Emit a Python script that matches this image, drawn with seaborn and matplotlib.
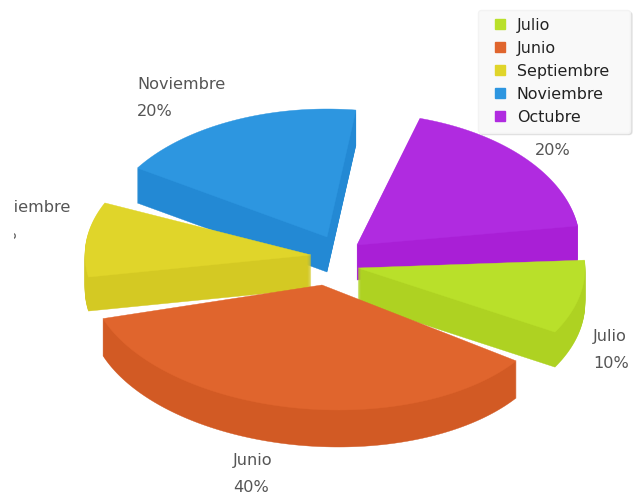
import matplotlib
matplotlib.use("Agg")
import matplotlib.pyplot as plt
import seaborn as sns
import numpy as np
from matplotlib.lines import Line2D
from matplotlib.patches import Rectangle

months = ["Julio", "Junio", "Septiembre", "Noviembre", "Octubre"]
shares = [10, 40, 10, 20, 20]
labels = ["10%", "40%", "10%", "20%", "20%"]

top_colors = ["#b9e02a", "#e0652d", "#e0d52a", "#2d96e0", "#b02be0"]
wall_colors = ["#aed222", "#d25a24", "#d4c923", "#2389d4", "#a91fd6"]

# Exploded offset of each slice, its squashed radii and the perspective
# correction of its two edges (all styling, in pixels / degrees)
offset_x = [18, -18, -29, -13, 17]
offset_y = [6, 23, -7, -25, -17]
radius_x = [227, 232, 226, 225, 223]
radius_y = [129, 125, 127, 128, 132]
shift_hi = [1.5, -3.4, 8, 1.4, -0.4]
shift_lo = [4.2, 13.6, 9.8, 8.6, 6.3]
shear = [0, 0.13, 0, 0, 0]
depth = [35, 37, 34, 35, 35]
draw_order = [3, 4, 2, 0, 1]
start_angle = 2

W, H = 643, 498
CX, CY = 340, 262
CLIP_LEFT = 14

sns.set_theme(style="white")
plt.rcParams["font.family"] = ["DejaVu Sans"]

fig = plt.figure(figsize=(W / 100, H / 100), dpi=100, facecolor="white")
ax = fig.add_axes([0, 0, 1, 1])
ax.set_xlim(0, W)
ax.set_ylim(H, 0)
ax.axis("off")

ends = start_angle - np.cumsum(shares) * 3.6
starts = ends + np.array(shares) * 3.6

z = 1
for i in draw_order:
    th = np.radians(np.linspace(starts[i] + shift_hi[i], ends[i] + shift_lo[i], 120))
    dy = -radius_y[i] * np.sin(th)
    dx = radius_x[i] * np.cos(th) + shear[i] * dy
    ax0 = CX + offset_x[i]
    ay0 = CY + offset_y[i]
    xs = np.r_[ax0, ax0 + dx]
    ys = np.r_[ay0, ay0 + dy]
    for k in range(depth[i], 0, -1):
        ax.fill(xs, ys + k, color=wall_colors[i], linewidth=0.3, zorder=z)
        z += 1
    ax.fill(xs, ys, color=top_colors[i], linewidth=0.3, zorder=z)
    z += 1

name_pos = [(593, 336), (233, 460), (-23, 207), (137, 84), None]
pct_pos = [(593, 363), (233, 487), (-19, 234), (137, 111), (535, 150)]
clip_region = Rectangle((CLIP_LEFT, 0), W, H, transform=ax.transData)
for i in range(len(months)):
    texts = []
    if name_pos[i] is not None:
        texts.append(ax.text(*name_pos[i], months[i], fontsize=11.6, color="#555555",
                             ha="left", va="center", zorder=z))
    texts.append(ax.text(*pct_pos[i], labels[i], fontsize=11.6, color="#555555",
                         ha="left", va="center", zorder=z))
    for t in texts:
        t.set_clip_on(True)
        t.set_clip_path(clip_region)

handles = [Line2D([], [], linestyle="none", marker="s", markersize=7,
                  markerfacecolor=c, markeredgecolor=c) for c in top_colors]
leg = ax.legend(handles, months, loc="upper left", mode="expand",
                bbox_to_anchor=(478 / W, 1 - 10 / H, 152 / W, 0),
                frameon=True, fontsize=11.4,
                labelcolor="#222222", facecolor="#f9f9f9", edgecolor="#f3f3f3",
                framealpha=1, fancybox=True,
                shadow={"ox": 1.5, "oy": -1.5, "alpha": 0.12},
                labelspacing=0.5, handletextpad=0.17, borderpad=0.5,
                handlelength=1.78, borderaxespad=0)
leg.set_zorder(z + 1)

fig.savefig("out.png", dpi=100, facecolor="white")
